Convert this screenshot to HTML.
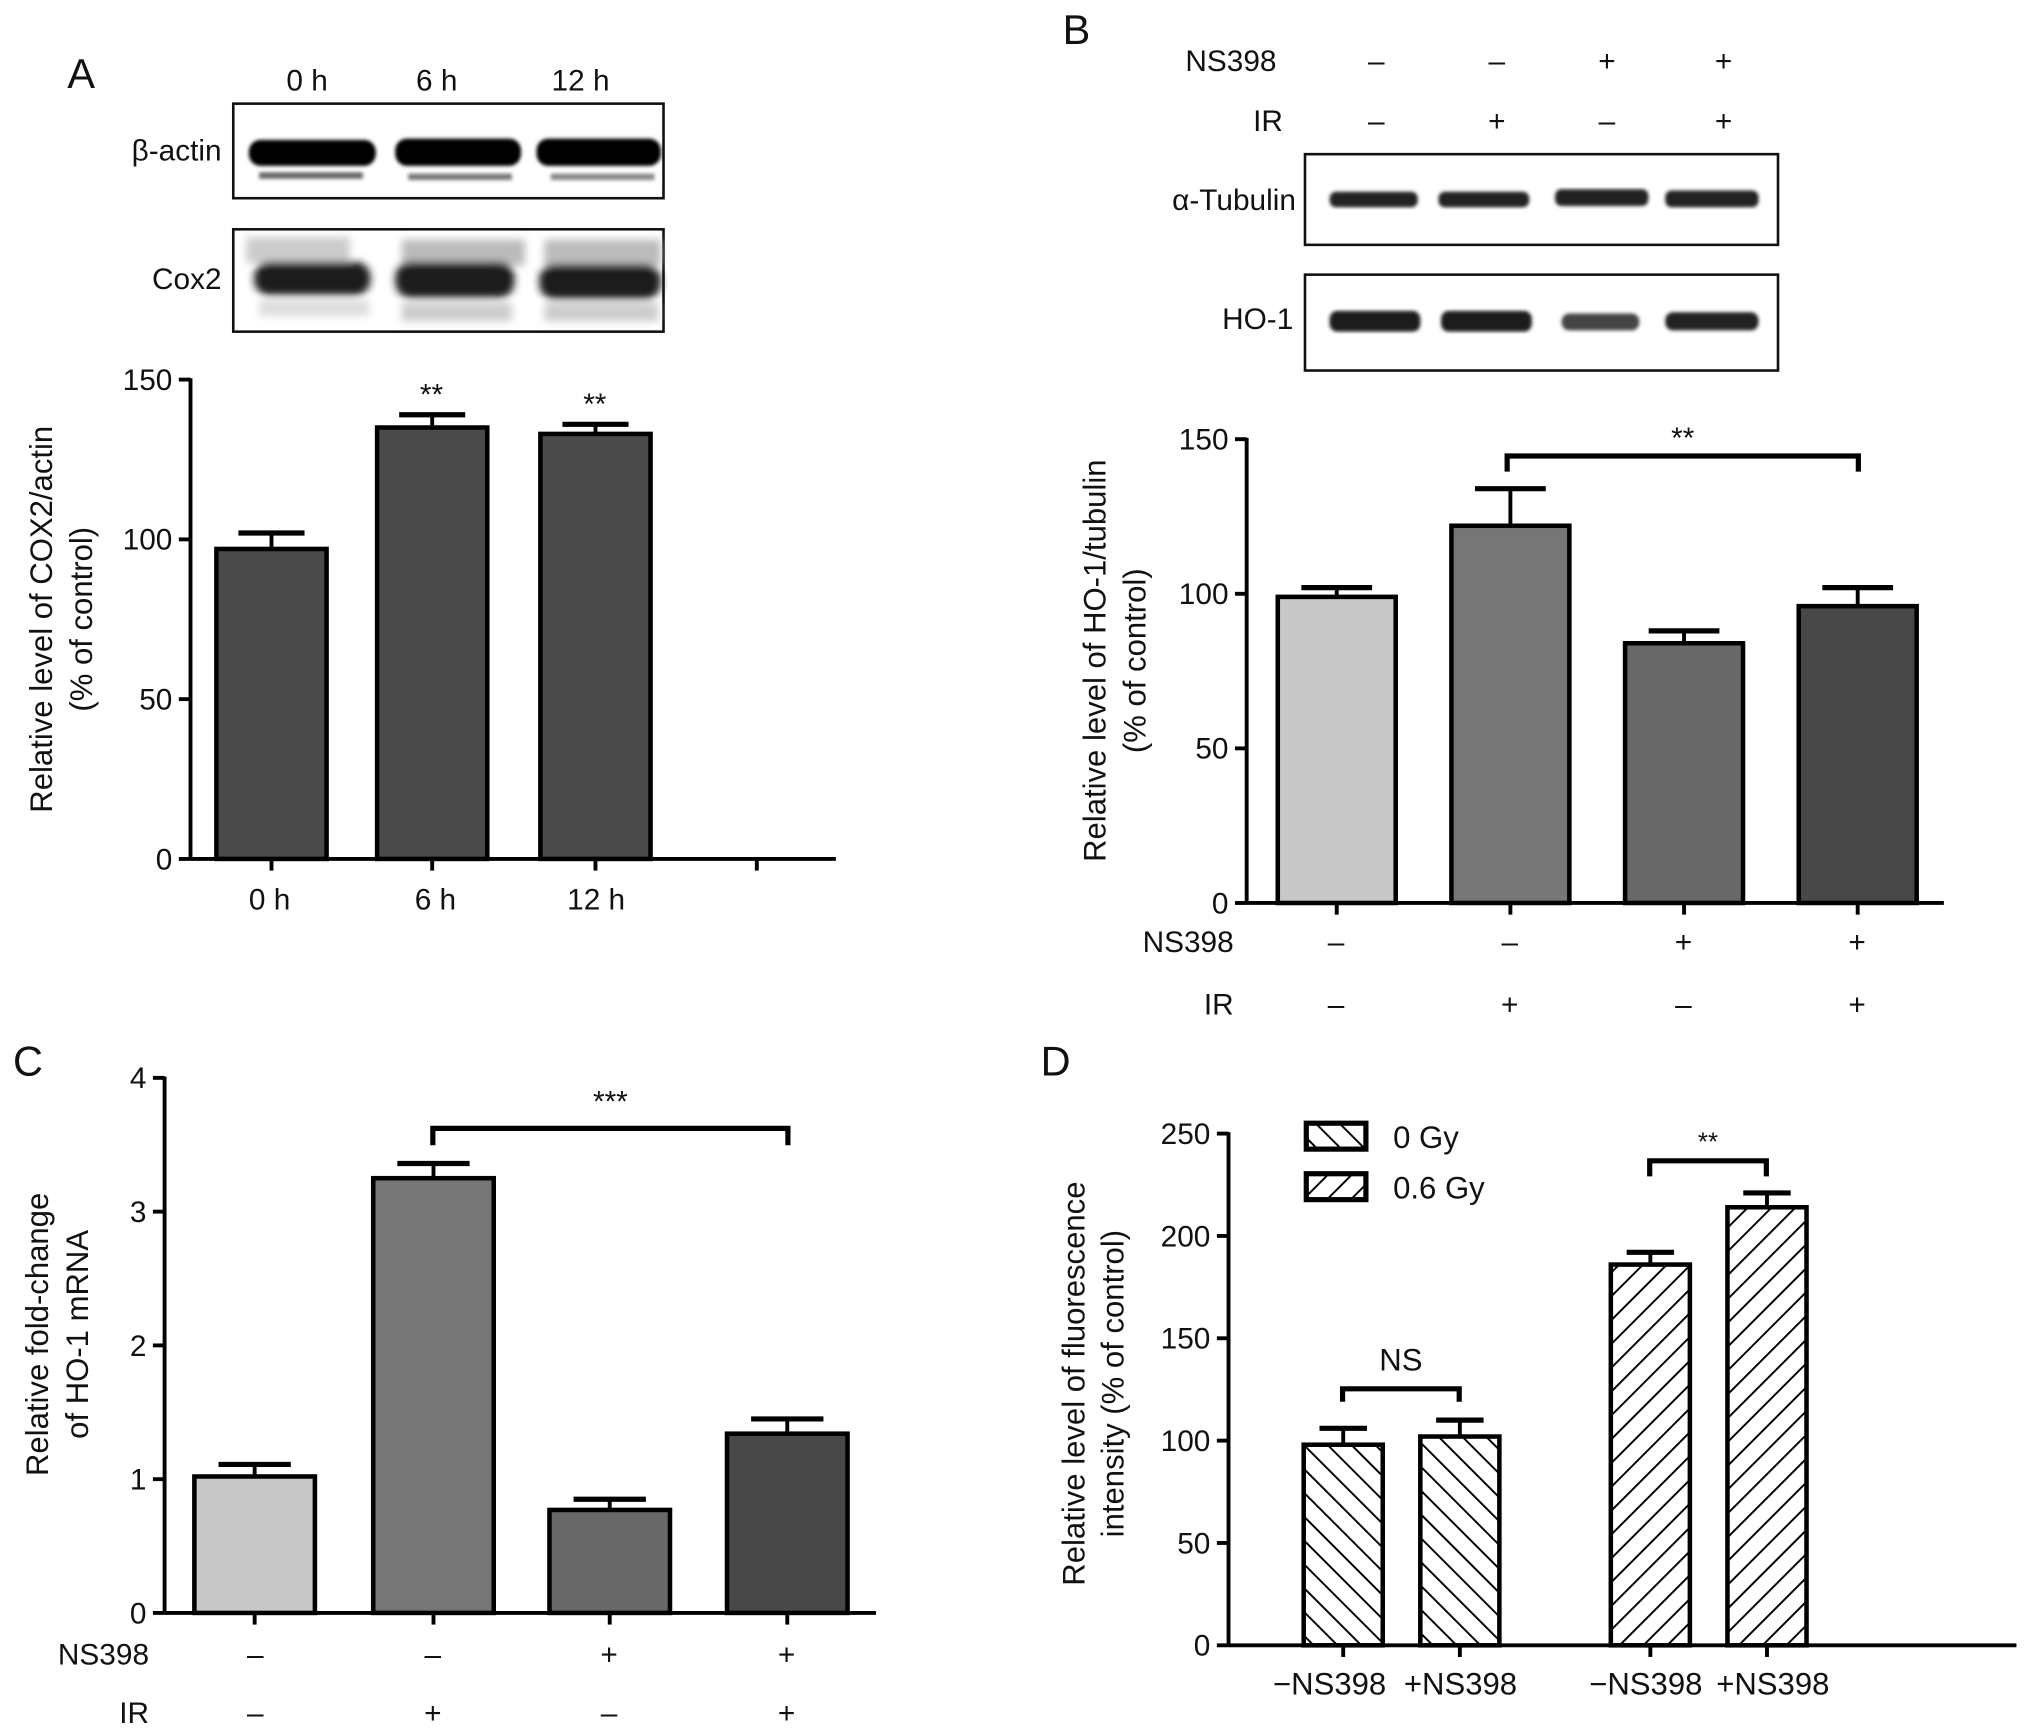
<!DOCTYPE html>
<html><head><meta charset="utf-8">
<style>
html,body{margin:0;padding:0;background:#fff;}
svg{display:block;}
text{font-family:"Liberation Sans",sans-serif;fill:#111;}
</style></head>
<body>
<svg id="fig" xmlns="http://www.w3.org/2000/svg" width="2032" height="1736" viewBox="0 0 1568 1340" preserveAspectRatio="none">
<defs>
<pattern id="hatchBack" patternUnits="userSpaceOnUse" width="13" height="13" patternTransform="rotate(-45)">
<line x1="0" y1="0" x2="0" y2="13" stroke="#000" stroke-width="3"/></pattern>
<pattern id="hatchFwd" patternUnits="userSpaceOnUse" width="13" height="13" patternTransform="rotate(45)">
<line x1="0" y1="0" x2="0" y2="13" stroke="#000" stroke-width="3"/></pattern>
<filter id="blur2"><feGaussianBlur stdDeviation="3"/></filter>
<filter id="blur1"><feGaussianBlur stdDeviation="1.5"/></filter>
</defs>

<text x="52" y="68" font-size="32">A</text>
<text x="820" y="34" font-size="32">B</text>
<text x="10" y="830" font-size="32">C</text>
<text x="803" y="830" font-size="32">D</text>

<g>
<text x="237" y="70" font-size="23" text-anchor="middle">0 h</text>
<text x="337" y="70" font-size="23" text-anchor="middle">6 h</text>
<text x="448" y="70" font-size="23" text-anchor="middle">12 h</text>
<text x="171" y="124" font-size="23" text-anchor="end">β-actin</text>
<text x="171" y="223" font-size="23" text-anchor="end">Cox2</text>
<rect x="180" y="80" width="332" height="73" fill="#fff" stroke="#111" stroke-width="2"/>
<g filter="url(#blur1)">
<rect x="192" y="108" width="98" height="20" rx="9" fill="#000"/>
<rect x="305" y="107" width="97" height="21" rx="9" fill="#000"/>
<rect x="414" y="107" width="96" height="21" rx="9" fill="#000"/>
<rect x="200" y="133" width="80" height="5" fill="#666"/>
<rect x="315" y="134" width="80" height="5" fill="#777"/>
<rect x="425" y="134" width="80" height="5" fill="#888"/>
</g>
<rect x="180" y="177" width="332" height="79" fill="#fff" stroke="#111" stroke-width="2"/>
<g filter="url(#blur2)">
<rect x="190" y="183" width="80" height="20" fill="#ccc"/>
<rect x="310" y="185" width="95" height="20" fill="#bbb"/>
<rect x="420" y="185" width="90" height="20" fill="#bbb"/>
<rect x="196" y="202" width="90" height="26" rx="12" fill="#1a1a1a"/>
<rect x="305" y="202" width="92" height="28" rx="12" fill="#1a1a1a"/>
<rect x="416" y="204" width="94" height="27" rx="12" fill="#1a1a1a"/>
<rect x="200" y="232" width="85" height="12" fill="#ddd"/>
<rect x="310" y="234" width="85" height="14" fill="#ccc"/>
<rect x="420" y="234" width="88" height="14" fill="#ccc"/>
</g>
</g>

<g>
<text x="985" y="55" font-size="23" text-anchor="end">NS398</text>
<text x="990" y="101" font-size="23" text-anchor="end">IR</text>
<text x="1062" y="55" font-size="23" text-anchor="middle">–</text>
<text x="1155" y="55" font-size="23" text-anchor="middle">–</text>
<text x="1240" y="55" font-size="23" text-anchor="middle">+</text>
<text x="1330" y="55" font-size="23" text-anchor="middle">+</text>
<text x="1062" y="101" font-size="23" text-anchor="middle">–</text>
<text x="1155" y="101" font-size="23" text-anchor="middle">+</text>
<text x="1240" y="101" font-size="23" text-anchor="middle">–</text>
<text x="1330" y="101" font-size="23" text-anchor="middle">+</text>
<text x="1000" y="162" font-size="23" text-anchor="end">α-Tubulin</text>
<text x="998" y="254" font-size="23" text-anchor="end">HO-1</text>
<rect x="1007" y="119" width="365" height="70" fill="#fff" stroke="#111" stroke-width="2"/>
<g filter="url(#blur1)">
<rect x="1026" y="148" width="68" height="12" rx="5" fill="#222"/>
<rect x="1110" y="148" width="70" height="12" rx="5" fill="#222"/>
<rect x="1200" y="146" width="72" height="13" rx="5" fill="#222"/>
<rect x="1285" y="147" width="72" height="13" rx="5" fill="#222"/>
</g>
<rect x="1007" y="212" width="365" height="74" fill="#fff" stroke="#111" stroke-width="2"/>
<g filter="url(#blur1)">
<rect x="1026" y="240" width="70" height="16" rx="6" fill="#1a1a1a"/>
<rect x="1112" y="240" width="70" height="16" rx="6" fill="#1a1a1a"/>
<rect x="1205" y="242" width="60" height="13" rx="6" fill="#444"/>
<rect x="1285" y="241" width="72" height="14" rx="6" fill="#222"/>
</g>
</g>

<g id="charts"></g>
</svg>
<script>
const aCategories = ["0 h", "6 h", "12 h"];
const aValues = [97, 135, 133];
const aErrors = [102, 139, 136];
const aTicks = [0, 50, 100, 150];
const bNS398 = ["–", "–", "+", "+"];
const bIR = ["–", "+", "–", "+"];
const bValues = [99, 122, 84, 96];
const bErrors = [102, 134, 88, 102];
const bTicks = [0, 50, 100, 150];
const cNS398 = ["–", "–", "+", "+"];
const cIR = ["–", "+", "–", "+"];
const cValues = [1.02, 3.25, 0.77, 1.34];
const cErrors = [1.11, 3.36, 0.85, 1.45];
const cTicks = [0, 1, 2, 3, 4];
const dCategories = ["−NS398", "+NS398", "−NS398", "+NS398"];
const dSeries = ["0 Gy", "0 Gy", "0.6 Gy", "0.6 Gy"];
const dValues = [98, 102, 186, 214];
const dErrors = [106, 110, 192, 221];
const dTicks = [0, 50, 100, 150, 200, 250];

const NS = "http://www.w3.org/2000/svg";
const root = document.getElementById("charts");
const FS = 23;
function mk(tag, attrs, parent) {
  const e = document.createElementNS(NS, tag);
  for (const k in attrs) e.setAttribute(k, attrs[k]);
  (parent || root).appendChild(e);
  return e;
}
function txt(s, x, y, size, anchor, parent) {
  const t = mk("text", {x: x, y: y, "font-size": size, "text-anchor": anchor || "middle"}, parent);
  t.textContent = s;
  return t;
}

function panel(cfg) {
  const g = mk("g", {});
  
  
  const y = v => cfg.y0 - v / cfg.max * (cfg.y0 - cfg.yTop);
  const ax = mk("line", {x1: cfg.xAxis, y1: y(cfg.max) - 1, x2: cfg.xAxis, y2: cfg.y0, stroke: "#000", "stroke-width": 3}, g);
  
  
  cfg.ticks.forEach(t => {
    mk("line", {x1: cfg.xAxis - 9, y1: y(t), x2: cfg.xAxis, y2: y(t), stroke: "#000", "stroke-width": 3}, g);
    const tl = txt(String(t), cfg.xAxis - 14, y(t) + 8, FS, "end", g);
    
    
  });
  const xa = mk("line", {x1: cfg.xAxis, y1: cfg.y0, x2: cfg.xEnd, y2: cfg.y0, stroke: "#000", "stroke-width": 3}, g);
  
  
  cfg.values.forEach((v, i) => {
    const x0 = cfg.barX[i], w = cfg.barW;
    const cx = x0 + w / 2;
    const eb = mk("g", {}, g);
    
    
    mk("line", {x1: cx, y1: y(v), x2: cx, y2: y(cfg.errors[i]), stroke: "#000", "stroke-width": 3}, eb);
    mk("line", {x1: cx - w * 0.3, y1: y(cfg.errors[i]), x2: cx + w * 0.3, y2: y(cfg.errors[i]), stroke: "#000", "stroke-width": 4}, eb);
    const r = mk("rect", {x: x0, y: y(v), width: w, height: cfg.y0 - y(v), fill: cfg.fills[i], stroke: "#000", "stroke-width": 3.5}, g);
    
    
    mk("line", {x1: cx, y1: cfg.y0, x2: cx, y2: cfg.y0 + 9, stroke: "#000", "stroke-width": 3}, g);
  });
  return {g: g, y: y};
}

function bracket(g, x1, x2, yTop, drop, label, size, ly) {
  const b = mk("path", {d: `M${x1},${yTop + drop} V${yTop} H${x2} V${yTop + drop}`, fill: "none", stroke: "#000", "stroke-width": 4}, g);
  
  
  const t = txt(label, (x1 + x2) / 2, ly, size, "middle", g);
  
  
}

function ytitle(g, lines, x, yc) {
  lines.forEach((s, i) => {
    const t = txt(s, 0, 0, 24, "middle", g);
    t.setAttribute("transform", `translate(${x[i]},${yc}) rotate(-90)`);
    
    
  });
}

const A = panel({name: "chart-a", xAxis: 147, xEnd: 645, y0: 663, yTop: 293, max: 150, ticks: aTicks,
  values: aValues, errors: aErrors, barX: [167, 291, 417], barW: 85, fills: ["#4a4a4a", "#4a4a4a", "#4a4a4a"]});
mk("line", {x1: 584, y1: 663, x2: 584, y2: 672, stroke: "#000", "stroke-width": 3}, A.g);
aCategories.forEach((c, i) => {
  const t = txt(c, [208, 336, 460][i], 702, FS, "middle", A.g);
  
  
});
[1, 2].forEach(i => {
  const t = txt("**", [167, 291, 417][i] + 42, A.y(aErrors[i]) - 8, 23, "middle", A.g);
  
  
});
ytitle(A.g, ["Relative level of COX2/actin", "(% of control)"], [40, 71], 478);

const B = panel({name: "chart-b", xAxis: 962, xEnd: 1500, y0: 697, yTop: 339, max: 150, ticks: bTicks,
  values: bValues, errors: bErrors, barX: [986, 1120, 1254, 1388], barW: 91, fills: ["#c8c8c8", "#767676", "#686868", "#484848"]});
bNS398.forEach((s, i) => { const t = txt(s, 1031 + i * 134, 735, FS, "middle", B.g);   });
bIR.forEach((s, i) => { const t = txt(s, 1031 + i * 134, 783, FS, "middle", B.g);   });
txt("NS398", 952, 735, FS, "end", B.g);
txt("IR", 952, 783, FS, "end", B.g);
bracket(B.g, 1163, 1434, 352, 12, "**", 23, 346);
ytitle(B.g, ["Relative level of HO-1/tubulin", "(% of control)"], [853, 884], 510);

const C = panel({name: "chart-c", xAxis: 127, xEnd: 676, y0: 1245, yTop: 832, max: 4, ticks: cTicks,
  values: cValues, errors: cErrors, barX: [150, 288, 424, 561], barW: 93, fills: ["#c8c8c8", "#767676", "#686868", "#484848"]});
cNS398.forEach((s, i) => { const t = txt(s, [197, 334, 470, 607][i], 1285, FS, "middle", C.g);   });
cIR.forEach((s, i) => { const t = txt(s, [197, 334, 470, 607][i], 1330, FS, "middle", C.g);   });
txt("NS398", 115, 1285, FS, "end", C.g);
txt("IR", 115, 1330, FS, "end", C.g);
bracket(C.g, 334, 608, 871, 13, "***", 23, 858);
ytitle(C.g, ["Relative fold-change", "of HO-1 mRNA"], [37, 68], 1030);

const dFill = s => s === "0 Gy" ? "url(#hatchBack)" : "url(#hatchFwd)";
const D = panel({name: "chart-d", xAxis: 948, xEnd: 1556, y0: 1270, yTop: 875, max: 250, ticks: dTicks,
  values: dValues, errors: dErrors, barX: [1006, 1096, 1243, 1333], barW: 61, fills: dSeries.map(dFill)});
dCategories.forEach((c, i) => {
  const t = txt(c, [1026, 1127, 1270, 1368][i], 1308, 24, "middle", D.g);
  
  
});
bracket(D.g, 1036, 1126, 1072, 10, "NS", 24, 1058);
bracket(D.g, 1273, 1363, 896, 12, "**", 20, 888);
ytitle(D.g, ["Relative level of fluorescence", "intensity (% of control)"], [837, 867], 1068);
const leg = mk("g", {}, D.g);


["0 Gy", "0.6 Gy"].forEach((s, i) => {
  const e = mk("g", {}, leg);
  
  
  mk("rect", {x: 1008, y: 867 + i * 39, width: 46, height: 20, fill: dFill(s), stroke: "#000", "stroke-width": 4}, e);
  txt(s, 1075, 886 + i * 39, 24, "start", e);
});
</script>
</body></html>
